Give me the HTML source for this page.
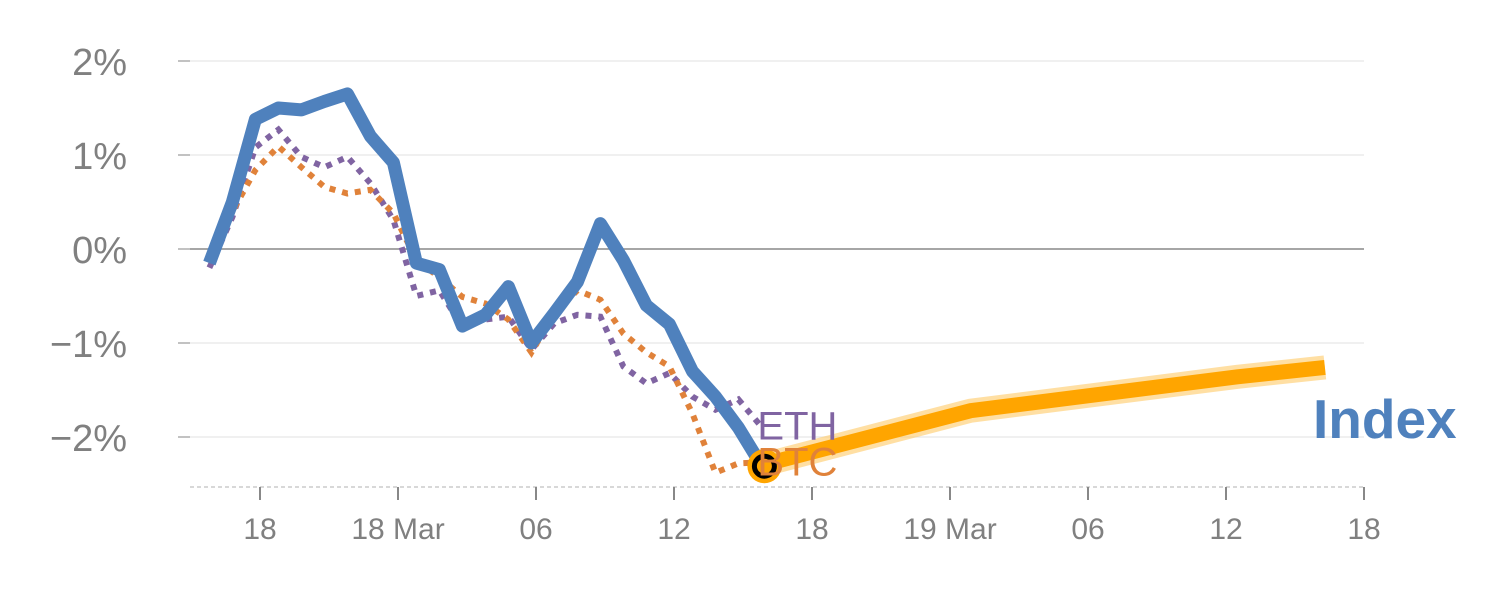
<!DOCTYPE html>
<html><head><meta charset="utf-8"><style>
body{margin:0;background:#fff}
svg{display:block;font-family:"Liberation Sans",sans-serif}
</style></head><body>
<svg id="chart" width="1500" height="600" xmlns="http://www.w3.org/2000/svg">
<g id="grid"></g><g id="axes"></g><g id="series"></g><g id="labels"></g>
</svg>
<script>
const yTicks=[2,1,0,-1,-2];
const yTickLabels=["2%","1%","0%","\u22121%","\u22122%"];
const xTickHours=[0,6,12,18,24,30,36,42,48];
const xTickLabels=["18","18 Mar","06","12","18","19 Mar","06","12","18"];
const hours=[-2.2,-1.2,-0.2,0.8,1.8,2.8,3.8,4.8,5.8,6.8,7.8,8.8,9.8,10.8,11.8,12.8,13.8,14.8,15.8,16.8,17.8,18.8,19.8,20.8,21.8];
const indexVals=[-0.15,0.5,1.38,1.5,1.48,1.57,1.65,1.2,0.92,-0.15,-0.22,-0.82,-0.7,-0.4,-1.0,-0.68,-0.35,0.27,-0.12,-0.6,-0.8,-1.3,-1.57,-1.9,-2.3];
const ethVals=[-0.2,0.34,1.08,1.27,0.98,0.87,0.98,0.7,0.31,-0.5,-0.44,-0.83,-0.75,-0.72,-1.07,-0.79,-0.7,-0.72,-1.25,-1.43,-1.32,-1.57,-1.71,-1.6,-1.89];
const btcVals=[-0.05,0.4,0.84,1.09,0.87,0.66,0.59,0.63,0.38,-0.12,-0.3,-0.51,-0.58,-0.75,-1.1,-0.68,-0.44,-0.54,-0.9,-1.1,-1.25,-1.75,-2.38,-2.28,-2.27];
const fcHours=[21.8,30.9,42.5,46.3];
const fcVals=[-2.3,-1.72,-1.36,-1.26];

const NS="http://www.w3.org/2000/svg";
const X=h=>260+23*h;
const Y=v=>249-94*v;
function mk(tag,attrs,parent,text){const e=document.createElementNS(NS,tag);for(const k in attrs)e.setAttribute(k,attrs[k]);if(text!==undefined)e.textContent=text;document.getElementById(parent).appendChild(e);return e;}
yTicks.forEach((t,i)=>{
 const g=mk('line',{x1:190,x2:1364,y1:Y(t),y2:Y(t),stroke:t===0?'#888':'#e6e6e6','stroke-width':t===0?1.5:1.2},'grid');
 
 
 const tk=mk('line',{x1:178,x2:190,y1:Y(t),y2:Y(t),stroke:'#999','stroke-width':1.2},'axes');
 
 
 const l=mk('text',{x:127,y:Y(t)+14,'text-anchor':'end','font-size':38,fill:'#808080'},'labels',yTickLabels[i]);
 
 
});
const base=mk('line',{x1:190,x2:1364,y1:487,y2:487,stroke:'#ccc','stroke-width':1.5,'stroke-dasharray':'4 3'},'axes');


xTickHours.forEach((h,i)=>{
 const t=mk('line',{x1:X(h),x2:X(h),y1:487,y2:500,stroke:'#888','stroke-width':2},'axes');
 
 
 const l=mk('text',{x:X(h),y:539,'text-anchor':'middle','font-size':30,fill:'#808080'},'labels',xTickLabels[i]);
 
 
});
function pts(hs,vs){return hs.map((h,i)=>X(h)+','+Y(vs[i])).join(' ');}
const fh=mk('polyline',{points:pts(fcHours,fcVals),fill:'none',stroke:'#ffc966','stroke-opacity':0.6,'stroke-width':24,'stroke-linejoin':'miter'},'series');


const fl=mk('polyline',{points:pts(fcHours,fcVals),fill:'none',stroke:'#ffa500','stroke-width':15,'stroke-linejoin':'miter'},'series');


const eth=mk('polyline',{points:pts(hours,ethVals),fill:'none',stroke:'#8064a2','stroke-width':6,'stroke-dasharray':'6 7'},'series');


const btc=mk('polyline',{points:pts(hours,btcVals),fill:'none',stroke:'#e0823a','stroke-width':6,'stroke-dasharray':'6 7'},'series');


const idx=mk('polyline',{points:pts(hours,indexVals),fill:'none',stroke:'#4f81bd','stroke-width':13,'stroke-linejoin':'round'},'series');


const lh=hours[hours.length-1],lv=indexVals[indexVals.length-1];
const m1=mk('circle',{cx:X(lh)+3,cy:Y(lv)+1,r:17,fill:'#ffa500'},'series');


const m2=mk('circle',{cx:X(lh)+3,cy:Y(lv)+1,r:10,fill:'none',stroke:'#000','stroke-width':5},'series');


const le=mk('text',{x:X(lh)-4,y:Y(ethVals[ethVals.length-1])+13,'font-size':40,fill:'#8064a2'},'labels','ETH');


const lb=mk('text',{x:X(lh)-4,y:Y(btcVals[btcVals.length-1])+13,'font-size':40,fill:'#e0823a'},'labels','BTC');


const li=mk('text',{x:1313,y:438,'font-size':55,'font-weight':'bold',fill:'#4f81bd'},'labels','Index');


</script>
</body></html>
